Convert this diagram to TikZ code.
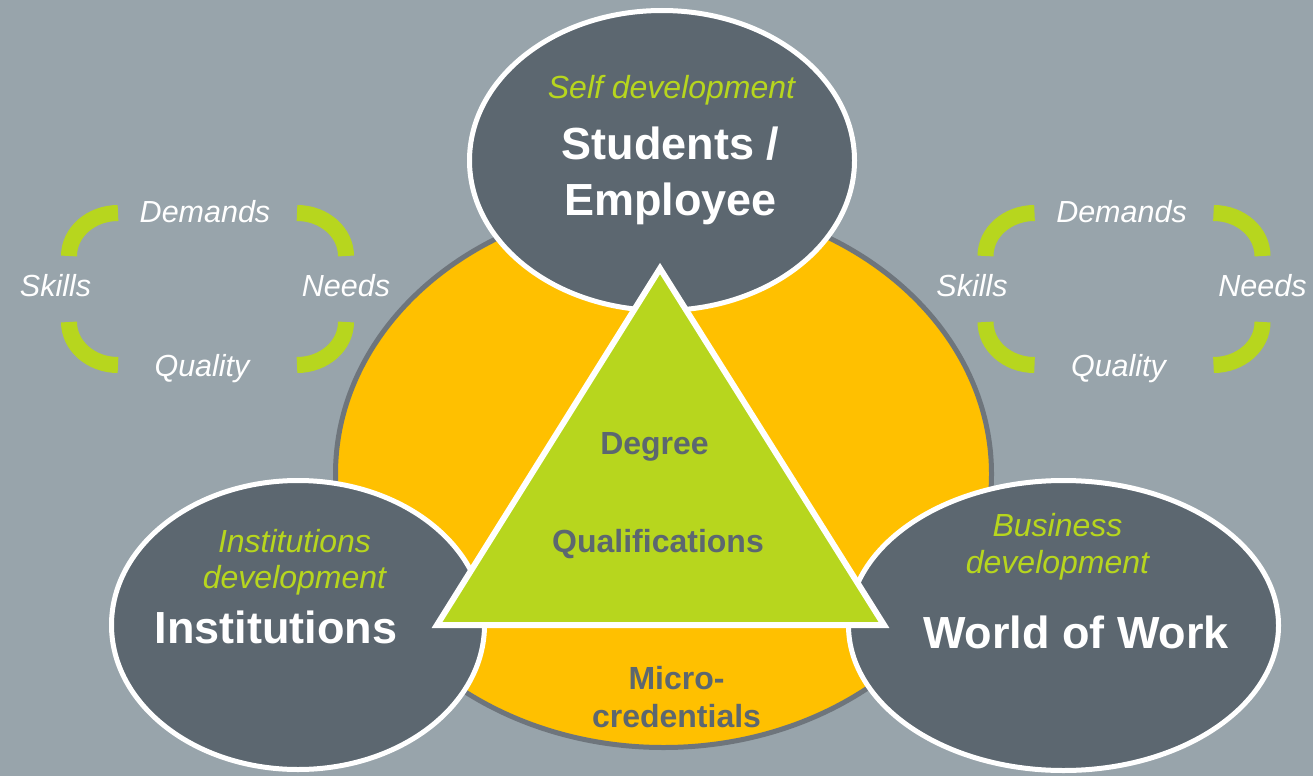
\documentclass[tikz,border=0pt]{standalone}
\usepackage{fontspec}
\setmainfont{Liberation Sans}
\usepackage{tikz}
\usetikzlibrary{shapes.geometric, positioning}

\definecolor{bggray}{RGB}{152,164,171}
\definecolor{slate}{RGB}{92,103,112}
\definecolor{amber}{RGB}{255,192,0}
\definecolor{lime}{RGB}{183,214,30}
\definecolor{rimgray}{RGB}{110,117,124}

\begin{document}
\begin{tikzpicture}[x=1pt,y=-1pt,line join=miter]
\tikzstyle{bubble}=[ellipse,fill=slate,draw=white,line width=5pt,inner sep=0pt]
\tikzset{lbl/.style={text=white,font=\fontsize{30.5pt}{36pt}\selectfont\itshape,inner sep=0pt,anchor=base},
         devtxt/.style={text=lime,font=\fontsize{32pt}{38pt}\selectfont\itshape,inner sep=0pt,anchor=base},
         actor/.style={text=white,font=\fontsize{45pt}{54pt}\selectfont\bfseries,inner sep=0pt,anchor=base},
         coretxt/.style={text=slate,font=\fontsize{32pt}{38pt}\selectfont\bfseries,inner sep=0pt,anchor=base},
         arcband/.style={draw=lime,line width=16pt}}

        \fill[bggray] (0,0) rectangle (1313,776);
        \useasboundingbox (0,0) rectangle (1313,776);

        % big ring behind everything
        \node[ellipse,fill=amber,draw=rimgray,line width=5pt,inner sep=0pt,
              minimum width=656pt,minimum height=547pt]            (hub)   at (663.5,474)   {};

        \node[bubble,minimum width=385pt,minimum height=300pt]       (learner) at (662,160.5) {};
        \node[bubble,minimum width=373pt,minimum height=289pt]       (inst)    at (298,625)   {};
        \node[bubble,minimum width=430pt,minimum height=290pt]       (wow)     at (1063.5,625.5) {};

        % triangle in the middle
        \coordinate (apex)  at (660,268.5);
        \coordinate (lbase) at (437,625);
        \coordinate (rbase) at (884,625);
        \draw[fill=lime,draw=white,line width=6pt] (apex) -- (lbase) -- (rbase) -- cycle;

        \node[devtxt]                                  (selfdev)  at (671.5,98)  {Self development};
        \node[actor]                                   (stud)     at (670.5,159) {Students /};
        \node[actor,below=56pt of stud.base,anchor=base]   (empl)  {Employee};

        \node[devtxt]                                  (instdev)  at (294.5,552) {Institutions};
        \node[devtxt,below=36pt of instdev.base,anchor=base] (instdevb) {development};
        \node[actor]                                   (instlbl)  at (276,643)   {Institutions};

        \node[devtxt]                                  (busdev)   at (1057.5,536) {Business};
        \node[devtxt,below=37pt of busdev.base,anchor=base]  (busdevb)  {development};
        \node[actor]                                   (wowlbl)   at (1076,648)  {World of Work};

        \node[coretxt]                                 (degree)   at (654.5,454) {Degree};
        \node[coretxt]                                 (qual)     at (658,552)   {Qualifications};
        \node[coretxt]                                 (micro)    at (676.5,689) {Micro-};
        \node[coretxt,below=38pt of micro.base,anchor=base]  (cred)   {credentials};

        % the two small cycles
        \foreach \g/\cx in {l/207.5,r/1124}{
          \begin{scope}[shift={(\cx,289)}]
            \draw[arcband] (-138.5,-33) arc[start angle=180,end angle=270,x radius=49,y radius=43];
            \draw[arcband] (89.5,-76)   arc[start angle=270,end angle=360,x radius=49,y radius=43];
            \draw[arcband] (138.5,33)   arc[start angle=0,end angle=90,x radius=49,y radius=43];
            \draw[arcband] (-89.5,76)   arc[start angle=90,end angle=180,x radius=49,y radius=43];
            \node[lbl] (\g-dem) at (-2.5,-67) {Demands};
            \node[lbl] (\g-ski) at (-152,7)   {Skills};
            \node[lbl] (\g-nee) at (138.5,7)  {Needs};
            \node[lbl] (\g-qua) at (-5.5,87)  {Quality};
          \end{scope}
        }

\end{tikzpicture}
\end{document}
